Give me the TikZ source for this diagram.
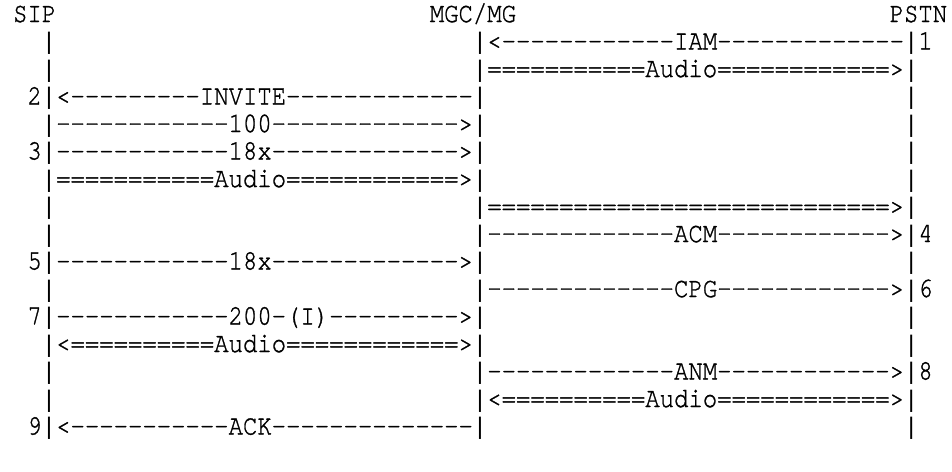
\documentclass[tikz,border=0pt]{standalone}
\usepackage{graphicx}
\usepackage{fontspec}
\newfontfamily\barfont{Liberation Mono}
\newfontfamily\curfont[FakeBold=1.2]{TeX Gyre Cursor}
\newcommand\cw{14.37}
\newcommand\xo{-1.3}
\newcommand\rh{27.5}
\newcommand\by{22}
\newcommand\msg[4]{\node[glyph] (#1) at ({\xo+#2*\cw},{-\by-#3*\rh}) {\scalebox{1}[1.18]{#4}};}
\begin{document}
\begin{tikzpicture}[x=1pt,y=1pt,
  glyph/.style={inner sep=0pt, outer sep=0pt, anchor=base west,
    font=\curfont\fontsize{23.95}{27.7}\selectfont},
  bar/.style={inner sep=0pt, outer sep=0pt, anchor=base west,
    font=\barfont\fontsize{23.95}{27.7}\selectfont}]
\useasboundingbox (0,0) rectangle (952,-471);
% headers
\msg{sip}{1}{0}{SIP}
\msg{mgc}{30}{0}{MGC/MG}
\msg{pstn}{62}{0}{PSTN}
% lifelines: the typed "|" of each row
\foreach \c/\n in {3/a,33/b,63/c}{
  \foreach \r in {1,...,15}{
    \node[bar] (\n\r) at ({\xo+\c*\cw},{-\by-\r*\rh}) {|};
  }
}
% messages
\msg{m1}{34}{1}{<------------IAM-------------}
\msg{m2}{34}{2}{===========Audio============>}
\msg{m3}{4}{3}{<---------INVITE-------------}
\msg{m4}{4}{4}{------------100------------->}
\msg{m5}{4}{5}{------------18x------------->}
\msg{m6}{4}{6}{===========Audio============>}
\msg{m7}{34}{7}{============================>}
\msg{m8}{34}{8}{-------------ACM------------>}
\msg{m9}{4}{9}{------------18x------------->}
\msg{m10}{34}{10}{-------------CPG------------>}
\msg{m11}{4}{11}{------------200-(I)--------->}
\msg{m12}{4}{12}{<==========Audio============>}
\msg{m13}{34}{13}{-------------ANM------------>}
\msg{m14}{34}{14}{<==========Audio============>}
\msg{m15}{4}{15}{<-----------ACK--------------}
% step numbers
\msg{n1}{64}{1}{1}
\msg{n2}{2}{3}{2}
\msg{n3}{2}{5}{3}
\msg{n4}{64}{8}{4}
\msg{n5}{2}{9}{5}
\msg{n6}{64}{10}{6}
\msg{n7}{2}{11}{7}
\msg{n8}{64}{13}{8}
\msg{n9}{2}{15}{9}
\end{tikzpicture}
\end{document}
